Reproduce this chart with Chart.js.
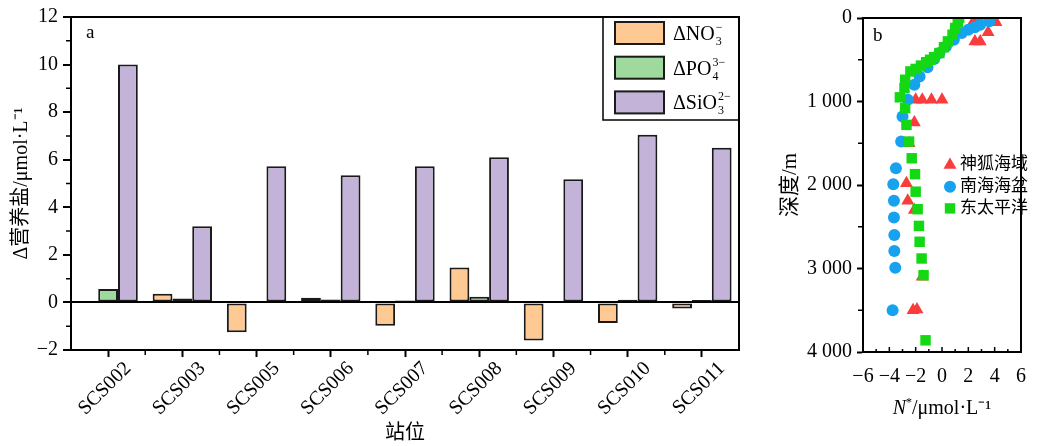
<!DOCTYPE html>
<html>
<head>
<meta charset="utf-8">
<script src="https://cdn.jsdelivr.net/npm/chart.js@4.4.1/dist/chart.umd.min.js"></script>
<style>
  html, body { margin: 0; padding: 0; background: #fff; }
  #wrap { position: relative; width: 1039px; height: 446px; }
  #chartA { position: absolute; left: 0; top: 0; }
  #chartB { position: absolute; left: 770px; top: 0; }
</style>
</head>
<body>
<div id="wrap">
  <canvas id="chartA" width="760" height="446"></canvas>
  <canvas id="chartB" width="269" height="446"></canvas>
</div>
<script>
// panel a: nutrient anomalies per station
const stations = ['SCS002', 'SCS003', 'SCS005', 'SCS006', 'SCS007', 'SCS008', 'SCS009', 'SCS010', 'SCS011'];
const dNO3 = [0, 0.36, -1.25, 0.2, -0.98, 1.47, -1.6, -0.87, -0.25];
const dPO4 = [0.56, 0.17, 0, 0.12, 0.08, 0.24, -0.04, 0.11, 0.1];
const dSiO3 = [10.0, 3.2, 5.72, 5.35, 5.72, 6.1, 5.18, 7.05, 6.5];
const yTicksA = [-2, 0, 2, 4, 6, 8, 10, 12];

// panel b: N* profiles (x = N*, y = depth in m)
const shenhuN = [2.4, 2.9, 4.1, 3.5, 2.5, 2.9, -2.0, -1.5, -0.8, 0.0, -2.1, -2.5, -2.7, -2.6, -2.1, -1.5, -2.2, -1.9];
const shenhuDepth = [40, 40, 50, 170, 280, 280, 980, 980, 980, 980, 1250, 1500, 1980, 2190, 2300, 3100, 3500, 3490];
const basinN = [3.6, 2.9, 2.5, 2.0, 1.5, 0.9, 0.3, -0.2, -0.6, -1.1, -1.7, -2.1, -2.6, -3.0, -3.1, -3.5, -3.7, -3.65, -3.65, -3.62, -3.62, -3.55, -3.75];
const basinDepth = [40, 80, 110, 140, 180, 260, 340, 420, 490, 590, 700, 800, 980, 1180, 1480, 1800, 1990, 2190, 2390, 2600, 2790, 2990, 3500];
const pacificN = [1.3, 1.2, 1.0, 0.8, 0.45, 0.15, -0.2, -0.6, -0.9, -1.2, -1.6, -2.0, -2.4, -2.8, -2.85, -3.2, -2.8, -2.7, -2.5, -2.3, -2.05, -2.0, -1.85, -1.75, -1.7, -1.55, -1.4, -1.25];
const pacificDepth = [0, 50, 120, 200, 280, 350, 420, 470, 500, 530, 570, 610, 640, 740, 840, 950, 1080, 1280, 1480, 1680, 1870, 2080, 2290, 2490, 2680, 2880, 3080, 3860];

const SERIF = "'Liberation Serif', 'Times New Roman', 'Noto Sans CJK SC', serif";
const minus = v => (v < 0 ? '\u2212' + Math.abs(v) : String(v));
const pts = (xs, ys) => xs.map((x, i) => ({ x: x, y: ys[i] }));

// frame around the plot area plus minor ticks
const framePlugin = {
    id: 'frame',
    afterDatasetsDraw(chart, args, opts) {
        const { ctx, chartArea: a } = chart;
        const sx = chart.scales.x, sy = chart.scales.y;
        ctx.save();
        ctx.strokeStyle = '#000';
        ctx.lineWidth = 2;
        ctx.strokeRect(a.left, a.top, a.right - a.left, a.bottom - a.top);
        ctx.lineWidth = 1.5;
        ctx.beginPath();
        (opts.yMinor || []).forEach(v => {
            const y = sy.getPixelForValue(v);
            ctx.moveTo(a.left - 5, y); ctx.lineTo(a.left, y);
        });
        (opts.xMinor || []).forEach(v => {
            const x = sx.getPixelForValue(v);
            ctx.moveTo(x, a.bottom); ctx.lineTo(x, a.bottom + 5);
        });
        (opts.xInner || []).forEach(t => {
            const x = sx.getPixelForValue(t[0]);
            ctx.moveTo(x, a.bottom); ctx.lineTo(x, a.bottom - t[1]);
        });
        ctx.stroke();
        ctx.restore();
    }
};

function drawChem(ctx, x, y, base, sub, sup) {
    ctx.font = '20px ' + SERIF;
    ctx.textBaseline = 'alphabetic';
    ctx.fillText(base, x, y);
    const w = ctx.measureText(base).width;
    ctx.font = '12px ' + SERIF;
    ctx.fillText(sub, x + w + 1, y + 5);
    ctx.fillText(sup, x + w + 1, y - 9);
}

const legendA = {
    id: 'legendA',
    afterDraw(chart) {
        const ctx = chart.ctx;
        const a = chart.chartArea;
        ctx.save();
        ctx.strokeStyle = '#000';
        ctx.lineWidth = 1.5;
        ctx.strokeRect(603, a.top, a.right - 603, 103);
        const rows = [
            { c: '#ffc994', base: '\u0394NO', sub: '3', sup: '\u2212' },
            { c: '#9fd99d', base: '\u0394PO', sub: '4', sup: '3\u2212' },
            { c: '#c3b3d9', base: '\u0394SiO', sub: '3', sup: '2\u2212' }
        ];
        rows.forEach((r, i) => {
            const cy = 33 + i * 34.7;
            ctx.fillStyle = r.c;
            ctx.fillRect(615, cy - 11, 49, 22);
            ctx.lineWidth = 2;
            ctx.strokeStyle = '#1a1a1a';
            ctx.strokeRect(615, cy - 11, 49, 22);
            ctx.fillStyle = '#000';
            drawChem(ctx, 673, cy + 7, r.base, r.sub, r.sup);
        });
        ctx.font = '19px ' + SERIF;
        ctx.fillText('a', 86, 38);
        ctx.restore();
    }
};

new Chart(document.getElementById('chartA'), {
    type: 'bar',
    data: {
        labels: stations,
        datasets: [
            { label: 'NO3', data: dNO3, backgroundColor: '#ffc994' },
            { label: 'PO4', data: dPO4, backgroundColor: '#9fd99d' },
            { label: 'SiO3', data: dSiO3, backgroundColor: '#c3b3d9' }
        ].map(d => Object.assign(d, {
            borderColor: '#1a1a1a', borderWidth: 2, borderSkipped: false,
            barPercentage: 1, categoryPercentage: 0.8
        }))
    },
    options: {
        responsive: false,
        animation: false,
        layout: { padding: { left: 0, top: 15, right: 21, bottom: 0 } },
        plugins: {
            legend: { display: false },
            tooltip: { enabled: false },
            frame: {
                yMinor: [-1, 1, 3, 5, 7, 9, 11],
                xMinor: [0.5, 1.5, 2.5, 3.5, 4.5, 5.5, 6.5, 7.5]
            }
        },
        scales: {
            x: {
                afterFit(s) { s.height = 96; },
                grid: { offset: false, drawOnChartArea: false, tickLength: 7, tickColor: '#000', tickWidth: 2 },
                border: { display: true, color: '#000', width: 2 },
                ticks: {
                    color: '#000', font: { family: SERIF, size: 20 },
                    minRotation: 45, maxRotation: 45, autoSkip: false, padding: 0, labelOffset: 20
                },
                title: {
                    display: true, text: '站位', color: '#000',
                    font: { family: SERIF, size: 20 }, padding: { top: 0, bottom: 0 }
                }
            },
            y: {
                min: -2, max: 12,
                afterFit(s) { s.width = 71; },
                afterBuildTicks(s) { s.ticks = yTicksA.map(v => ({ value: v })); },
                grid: {
                    color: c => (c.tick && c.tick.value === 0 ? '#000' : 'rgba(0,0,0,0)'),
                    lineWidth: 2, tickColor: '#000', tickLength: 8, tickWidth: 2
                },
                border: { display: true, color: '#000', width: 2 },
                ticks: {
                    color: '#000', font: { family: SERIF, size: 20 }, padding: 5,
                    callback: v => minus(v)
                },
                title: {
                    display: true, text: '\u0394营养盐/μmol·L⁻¹', color: '#000',
                    font: { family: SERIF, size: 20 }, padding: { top: 10, bottom: 0 }
                }
            }
        }
    },
    plugins: [framePlugin, legendA]
});

const legendB = {
    id: 'legendB',
    afterDraw(chart) {
        const ctx = chart.ctx;
        const a = chart.chartArea;
        ctx.save();
        const rows = [
            { c: '#fb3c3c', t: '神狐海域', s: 'tri' },
            { c: '#17a2ee', t: '南海海盆', s: 'circ' },
            { c: '#14d814', t: '东太平洋', s: 'sq' }
        ];
        rows.forEach((r, i) => {
            const x = 180, y = 165 + i * 21.7;
            ctx.fillStyle = r.c;
            ctx.beginPath();
            if (r.s === 'tri') {
                const R = 7.5;
                ctx.moveTo(x, y - R);
                ctx.lineTo(x + R * 0.866, y + R * 0.5);
                ctx.lineTo(x - R * 0.866, y + R * 0.5);
                ctx.closePath();
            } else if (r.s === 'circ') {
                ctx.arc(x, y, 6, 0, Math.PI * 2);
            } else {
                ctx.rect(x - 5.2, y - 5.2, 10.4, 10.4);
            }
            ctx.fill();
            ctx.fillStyle = '#000';
            ctx.font = '17px ' + SERIF;
            ctx.textBaseline = 'middle';
            ctx.fillText(r.t, x + 10, y);
        });
        ctx.textBaseline = 'alphabetic';
        ctx.font = '19px ' + SERIF;
        ctx.fillText('b', 103, 41);
        // x title with italic N
        const cx = (a.left + a.right) / 2;
        const yb = 414;
        ctx.font = 'italic 20px ' + SERIF;
        const wN = ctx.measureText('N').width;
        ctx.font = '12px ' + SERIF;
        const wS = ctx.measureText('*').width;
        ctx.font = '20px ' + SERIF;
        const rest = '/μmol·L⁻¹';
        const wR = ctx.measureText(rest).width;
        let x0 = cx - (wN + wS + wR) / 2;
        ctx.font = 'italic 20px ' + SERIF;
        ctx.fillText('N', x0, yb);
        ctx.font = '12px ' + SERIF;
        ctx.fillText('*', x0 + wN, yb - 8);
        ctx.font = '20px ' + SERIF;
        ctx.fillText(rest, x0 + wN + wS, yb);
        ctx.restore();
    }
};

const pointDs = (label, xs, ys, color, style, r, order) => ({
    label: label, data: pts(xs, ys), backgroundColor: color, borderColor: color,
    borderWidth: 0, pointStyle: style, pointRadius: r, order: order
});

new Chart(document.getElementById('chartB'), {
    type: 'scatter',
    data: {
        datasets: [
            pointDs('神狐海域', shenhuN, shenhuDepth, '#fb3c3c', 'triangle', 7.5, 3),
            pointDs('南海海盆', basinN, basinDepth, '#17a2ee', 'circle', 6, 2),
            pointDs('东太平洋', pacificN, pacificDepth, '#14d814', 'rect', 7.4, 1)
        ]
    },
    options: {
        responsive: false,
        animation: false,
        layout: { padding: { left: 0, top: 18, right: 7, bottom: 0 } },
        plugins: {
            legend: { display: false },
            tooltip: { enabled: false },
            frame: {
                yMinor: [500, 1500, 2500, 3500],
                xInner: [[-6, 5], [-5, 3], [-4, 5], [-3, 3], [-2, 5], [-1, 3], [0, 5], [1, 3], [2, 5], [3, 3], [4, 5], [5, 3], [6, 5]]
            }
        },
        scales: {
            x: {
                type: 'linear', min: -6, max: 6,
                afterFit(s) { s.height = 94; },
                grid: { drawOnChartArea: false, drawTicks: false },
                border: { display: true, color: '#000', width: 2 },
                ticks: {
                    stepSize: 2, color: '#000', font: { family: SERIF, size: 20 }, padding: 13,
                    callback: v => minus(v)
                },
                title: { display: false }
            },
            y: {
                type: 'linear', min: 0, max: 4000, reverse: true,
                afterFit(s) { s.width = 93; },
                grid: { drawOnChartArea: false, tickLength: 6, tickColor: '#000', tickWidth: 2 },
                border: { display: true, color: '#000', width: 2 },
                ticks: {
                    stepSize: 1000, color: '#000', font: { family: SERIF, size: 20 }, padding: 5,
                    callback: v => (v === 0 ? '0' : (v / 1000) + ' 000')
                },
                title: {
                    display: true, text: '深度/m', color: '#000',
                    font: { family: SERIF, size: 21 }, padding: { top: 8, bottom: 0 }
                }
            }
        }
    },
    plugins: [framePlugin, legendB]
});
</script>
</body>
</html>
